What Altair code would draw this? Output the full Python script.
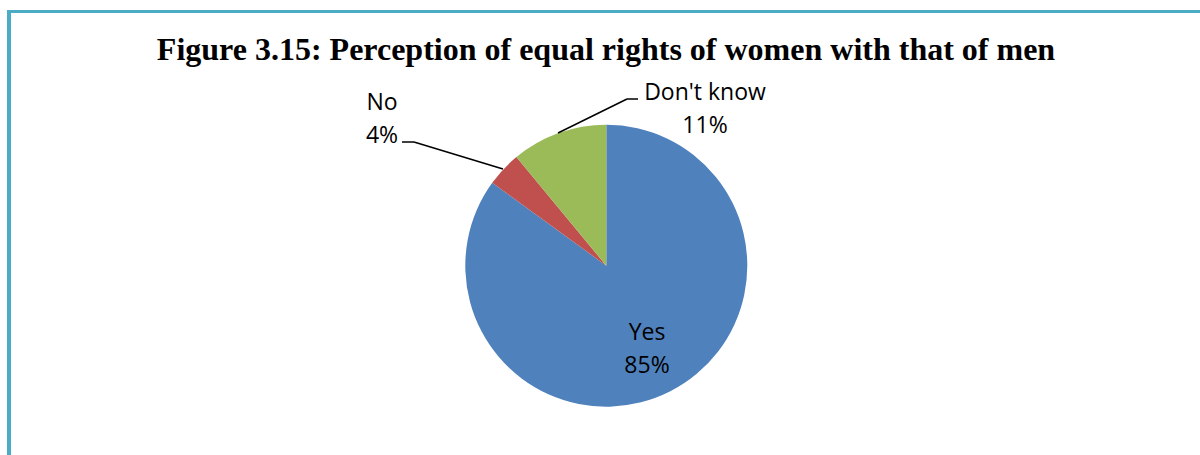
import altair as alt
import pandas as pd

TITLE = "Figure 3.15: Perception of equal rights of women with that of men"
categories = ["Yes", "No", "Don't know"]
values = [85, 4, 11]
colors = ["#4F81BD", "#C0504D", "#9BBB59"]

df = pd.DataFrame({
    "category": categories,
    "value": values,
    "order": list(range(len(categories))),
})
df["label"] = [f"{c}\n{v}%" for c, v in zip(categories, values)]

one = pd.DataFrame({"a": [0]})
CX, CY, R = 606.3, 265.7, 141
LABEL_FONT = "Open Sans"
LABEL_SIZE = 23

pie = alt.Chart(df).mark_arc(outerRadius=R).encode(
    theta=alt.Theta("value:Q", stack=True),
    color=alt.Color("category:N", scale=alt.Scale(domain=categories, range=colors), legend=None),
    order=alt.Order("order:Q"),
    x=alt.value(CX),
    y=alt.value(CY),
)


def label(cat, x, y):
    return alt.Chart(df).transform_filter(alt.datum.category == cat).mark_text(
        font=LABEL_FONT, fontSize=LABEL_SIZE, color="black", align="center",
        baseline="alphabetic", lineBreak="\n", lineHeight=33,
    ).encode(text="label:N", x=alt.value(x), y=alt.value(y))


def seg(x, y, x2, y2, color="black", w=1.5):
    return alt.Chart(one).mark_rule(color=color, strokeWidth=w).encode(
        x=alt.value(x), y=alt.value(y), x2=alt.value(x2), y2=alt.value(y2)
    )


title = alt.Chart(one).mark_text(
    font="Liberation Serif", fontSize=32, fontWeight="bold", color="black",
    align="center", baseline="alphabetic",
).encode(text=alt.value(TITLE), x=alt.value(606), y=alt.value(60))

border_color = "#4BACC6"
layers = [
    seg(9, 10, 9, 455, border_color, 4),
    seg(7, 11.5, 1200, 11.5, border_color, 3),
    pie,
    label("Yes", 647, 340),
    label("No", 382, 110),
    label("Don't know", 705, 100),
    seg(402, 142, 414, 142),
    seg(414, 142, 503, 169),
    seg(638, 99, 627, 99),
    seg(627, 99, 558, 133),
    title,
]

chart = alt.layer(*layers).properties(
    width=1200, height=455, autosize=alt.AutoSizeParams(type="none"), padding=0,
    background="white",
).configure_view(stroke=None)

chart.save("out.html", embed_options={"renderer": "svg", "actions": False})
